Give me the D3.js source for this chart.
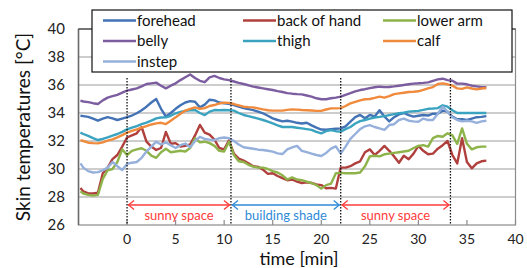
<!DOCTYPE html>
<html>
<head>
  <title>Skin temperatures</title>
  <script src="https://d3js.org/d3.v7.min.js"></script>
  <style>
    body { margin: 0; background: #fff; }
    text { font-family: Lato, "Open Sans", sans-serif; }
  </style>
</head>
<body>
  <div id="chart"></div>
  <script>
  const time = [-4.8, -4.5, -4, -3.5, -3, -2.5, -2, -1.5, -1, -0.5,
    0, 0.5, 1, 1.5, 2, 2.5, 3, 3.5, 4, 4.5, 5, 5.5, 6, 6.5, 7, 7.5, 8, 8.5, 9, 9.5,
    10, 10.5, 11, 11.5, 12, 12.5, 13, 13.5, 14, 14.5, 15, 15.5, 16, 16.5, 17, 17.5, 18, 18.5, 19, 19.5,
    20, 20.5, 21, 21.5, 22, 22.5, 23, 23.5, 24, 24.5, 25, 25.5, 26, 26.5, 27, 27.5, 28, 28.5, 29, 29.5,
    30, 30.5, 31, 31.5, 32, 32.5, 33, 33.5, 34, 34.5, 35, 35.5, 36, 36.5, 37];

  const forehead = [33.8, 33.78, 33.72, 33.6, 33.45, 33.6, 33.7, 33.62, 33.5, 33.6,
    33.7, 33.82, 33.98, 34.2, 34.45, 34.75, 35.0, 34.3, 33.75, 34.0, 34.3, 34.55, 34.75, 34.85, 34.8, 34.4, 34.6, 34.95, 34.9, 34.75,
    34.7, 34.65, 34.57, 34.45, 34.35, 34.28, 34.2, 34.1, 33.98, 33.8, 33.62, 33.5, 33.4, 33.45, 33.38, 33.3, 33.25, 33.3, 33.12, 32.95,
    32.82, 32.8, 32.85, 32.88, 32.9, 33.05, 33.38, 33.7, 33.86, 33.62, 33.86, 33.75, 34.2, 33.75, 33.4, 33.7, 33.9, 34.0, 33.85, 33.74,
    33.8, 33.86, 33.82, 33.95, 33.95, 34.17, 34.1, 33.75, 33.55, 33.55, 33.5, 33.6, 33.7, 33.72, 33.78];

  const backOfHand = [28.65, 28.4, 28.26, 28.25, 28.3, 29.7, 30.1, 30.7, 31.0, 31.6,
    32.25, 32.4, 32.55, 33.0, 31.95, 31.6, 31.36, 31.5, 32.65, 31.8, 31.85, 31.6, 31.65, 31.75, 32.4, 33.15, 32.6, 32.45, 32.1, 31.5,
    31.4, 32.05, 31.1, 30.75, 30.6, 30.4, 30.2, 30.15, 29.95, 29.65, 29.7, 29.5, 29.35, 29.2, 29.25, 29.1, 29.0, 29.05, 29.0, 28.9,
    28.85, 28.62, 28.65, 28.6, 30.1, 30.1, 30.2, 30.4, 30.55, 31.2, 31.4, 31.0, 31.3, 31.65, 31.3, 30.9, 30.45, 30.95, 30.7, 31.1,
    31.65, 31.3, 31.05, 31.1, 31.45, 31.7, 32.0, 31.0, 30.4, 32.2, 30.5, 30.05, 30.4, 30.55, 30.6];

  const lowerArm = [28.4, 28.25, 28.15, 28.1, 28.15, 29.3, 29.9, 30.0, 30.5, 31.4,
    31.0, 31.3, 31.4, 31.48, 31.3, 30.95, 30.8, 31.2, 31.45, 31.2, 31.25, 31.3, 31.25, 31.5, 32.2, 31.9, 31.95, 31.85, 31.65, 31.3,
    31.25, 31.95, 31.0, 30.55, 30.5, 30.3, 30.17, 30.1, 30.1, 30.0, 29.85, 29.75, 29.55, 29.25, 29.4, 29.25, 29.2, 29.1, 29.0, 28.85,
    28.6, 28.85, 28.95, 29.7, 29.72, 29.7, 29.7, 29.7, 29.75, 30.2, 30.9, 30.95, 30.9, 31.05, 31.1, 31.15, 31.2, 31.25, 31.3, 31.5,
    31.65, 31.7, 31.6, 32.2, 32.36, 32.3, 32.55, 32.4, 31.8, 32.9, 31.8, 31.4, 31.55, 31.6, 31.6];

  const belly = [34.88, 34.82, 34.78, 34.7, 34.64, 34.9, 35.1, 35.2, 35.3, 35.45,
    35.6, 35.68, 35.76, 35.9, 36.07, 36.12, 36.17, 35.95, 35.76, 35.95, 36.12, 36.35, 36.55, 36.75, 36.5, 36.3, 36.2, 36.55, 36.65, 36.5,
    36.4, 36.35, 36.25, 36.15, 36.07, 35.98, 35.88, 35.82, 35.76, 35.7, 35.64, 35.56, 35.5, 35.42, 35.38, 35.35, 35.33, 35.25, 35.17, 35.05,
    34.98, 34.98, 35.05, 35.1, 35.17, 35.3, 35.42, 35.55, 35.64, 35.7, 35.78, 35.84, 35.88, 35.85, 35.86, 35.9, 35.95, 36.0, 36.05, 36.1,
    36.12, 36.15, 36.19, 36.3, 36.4, 36.45, 36.35, 36.3, 36.1, 36.1, 36.05, 35.95, 35.9, 35.85, 35.85];

  const thigh = [32.6, 32.5, 32.36, 32.2, 32.07, 32.15, 32.26, 32.38, 32.5, 32.65,
    32.83, 32.95, 33.07, 33.2, 33.31, 33.45, 33.62, 33.68, 33.69, 33.8, 33.98, 34.08, 34.15, 34.2, 34.21, 34.0, 33.85, 34.1, 34.21, 34.2,
    34.21, 34.2, 34.17, 34.0, 33.86, 33.78, 33.69, 33.6, 33.5, 33.38, 33.26, 33.12, 33.0, 33.0, 33.0, 32.95, 32.9, 32.85, 32.79, 32.65,
    32.55, 32.7, 32.78, 32.7, 32.67, 32.85, 33.0, 33.25, 33.42, 33.5, 33.6, 33.68, 33.72, 33.78, 33.85, 33.92, 33.98, 34.02, 34.1, 34.12,
    34.15, 34.22, 34.3, 34.32, 34.35, 34.55, 34.45, 34.2, 34.0, 34.0, 34.0, 34.0, 34.0, 34.0, 34.0];

  const calf = [32.07, 32.0, 31.88, 31.85, 31.83, 31.9, 32.02, 32.12, 32.26, 32.42,
    32.6, 32.72, 32.83, 32.95, 33.07, 33.18, 33.26, 33.3, 33.21, 33.45, 33.69, 33.95, 34.17, 34.3, 34.4, 34.3, 34.35, 34.5, 34.57, 34.68,
    34.74, 34.72, 34.64, 34.55, 34.45, 34.42, 34.4, 34.33, 34.26, 34.2, 34.17, 34.17, 34.17, 34.22, 34.26, 34.24, 34.21, 34.2, 34.18, 34.15,
    34.15, 34.25, 34.33, 34.33, 34.35, 34.5, 34.69, 34.8, 34.9, 34.98, 35.0, 35.08, 35.17, 35.1, 35.2, 35.35, 35.4, 35.45, 35.5, 35.52,
    35.55, 35.65, 35.76, 35.85, 36.07, 36.12, 36.05, 35.95, 35.76, 35.72, 35.83, 35.75, 35.69, 35.75, 35.79];

  const instep = [30.4, 30.1, 29.85, 29.75, 29.78, 29.9, 30.1, 30.5, 30.2, 29.93,
    30.36, 30.45, 30.5, 30.8, 31.25, 31.6, 31.95, 31.75, 31.9, 31.7, 31.5, 31.7, 31.82, 31.55, 32.0, 32.3, 32.15, 32.1, 32.07, 32.2,
    32.25, 32.2, 32.0, 31.75, 31.55, 31.5, 31.45, 31.38, 31.36, 31.3, 31.24, 31.12, 31.07, 31.4, 31.55, 31.65, 31.3, 31.2, 31.1, 31.0,
    30.93, 31.15, 31.45, 31.62, 31.1, 31.6, 32.15, 32.5, 32.85, 33.05, 33.14, 33.0, 32.9, 32.8, 33.14, 33.2, 33.5, 33.6, 33.45, 33.4,
    33.38, 33.6, 33.5, 33.5, 33.95, 34.45, 34.1, 33.7, 33.5, 33.4, 33.45, 33.4, 33.3, 33.4, 33.45];

  const seriesNames = ["forehead", "back of hand", "lower arm", "belly", "thigh", "calf", "instep"];
  const seriesValues = [forehead, backOfHand, lowerArm, belly, thigh, calf, instep];
  const seriesColors = ["#4372b5", "#b0403d", "#8db34a", "#7c5ea0", "#3aa3bf", "#f08a3c", "#96b0dc"];

  const yTicks = [26, 28, 30, 32, 34, 36, 38, 40];
  const xTicks = [0, 5, 10, 15, 20, 25, 30, 35, 40];

  const phaseBounds = [0, 10.7, 22, 33.3];
  const phaseLabels = ["sunny space", "building shade", "sunny space"];
  const phaseColors = ["#ff3b3b", "#2f8ad8", "#ff3b3b"];

  const W = 527, H = 268;
  const svg = d3.select("#chart").append("svg")
    .attr("width", W).attr("height", H);

  const x = d3.scaleLinear().domain([-5, 40]).range([78.5, 515.5]);
  const y = d3.scaleLinear().domain([26, 40]).range([225, 29]);

  // gridlines
  svg.append("g")
    .selectAll("line")
    .data(yTicks.slice(1, -1))
    .join("line")
    .attr("x1", x(-5)).attr("x2", x(40))
    .attr("y1", d => y(d)).attr("y2", d => y(d))
    .attr("stroke", "#bdbdbd").attr("stroke-width", 1.5);

  // plot frame
  svg.append("rect")
    .attr("x", x(-5)).attr("y", y(40))
    .attr("width", x(40) - x(-5)).attr("height", y(26) - y(40))
    .attr("fill", "none").attr("stroke", "#8a8a8a").attr("stroke-width", 1.2);
  svg.append("line")
    .attr("x1", x(-5)).attr("x2", x(-5)).attr("y1", y(40)).attr("y2", y(26))
    .attr("stroke", "#6a6a6a").attr("stroke-width", 1.5);
  svg.append("line")
    .attr("x1", x(-5)).attr("x2", x(40)).attr("y1", y(40)).attr("y2", y(40))
    .attr("stroke", "#333").attr("stroke-width", 1.2);

  // x tick marks (inside)
  svg.append("g")
    .selectAll("line")
    .data(xTicks)
    .join("line")
    .attr("x1", d => x(d)).attr("x2", d => x(d))
    .attr("y1", y(26)).attr("y2", y(26) - 5)
    .attr("stroke", "#8a8a8a").attr("stroke-width", 1.2);

  // tick labels
  svg.append("g")
    .selectAll("text")
    .data(yTicks)
    .join("text")
    .attr("x", 65).attr("y", d => y(d) + 5)
    .attr("text-anchor", "end")
    .attr("font-size", 15).attr("fill", "#222")
    .text(d => d);

  svg.append("g")
    .selectAll("text")
    .data(xTicks)
    .join("text")
    .attr("x", d => x(d)).attr("y", 244)
    .attr("text-anchor", "middle")
    .attr("font-size", 14).attr("fill", "#222")
    .text(d => d);

  // axis titles
  svg.append("text")
    .attr("x", 299).attr("y", 264.8)
    .attr("text-anchor", "middle")
    .attr("font-size", 18).attr("fill", "#111")
    .text("time [min]");

  svg.append("text")
    .attr("transform", `translate(30,${(y(26) + y(40)) / 2}) rotate(-90)`)
    .attr("text-anchor", "middle")
    .attr("font-size", 19).attr("fill", "#111")
    .text("Skin temperatures [°C]");

  // series lines
  svg.append("clipPath").attr("id", "plot-clip")
    .append("rect")
    .attr("x", x(-5)).attr("y", y(40))
    .attr("width", x(40) - x(-5)).attr("height", y(26) - y(40));

  const line = d3.line()
    .x((d, i) => x(time[i]))
    .y(d => y(d));

  svg.append("g")
    .attr("clip-path", "url(#plot-clip)")
    .selectAll("path")
    .data(seriesValues)
    .join("path")
    .attr("d", d => line(d))
    .attr("fill", "none")
    .attr("stroke", (d, i) => seriesColors[i])
    .attr("stroke-width", 2.4)
    .attr("stroke-linejoin", "round");

  // phase boundaries
  svg.append("g")
    .selectAll("line")
    .data(phaseBounds)
    .join("line")
    .attr("x1", d => x(d)).attr("x2", d => x(d))
    .attr("y1", y(36.5)).attr("y2", y(26))
    .attr("stroke", "#111").attr("stroke-width", 1.3)
    .attr("stroke-dasharray", "1.5,1.5");

  // phase arrows
  const arrowY = 205;
  const phases = phaseLabels.map((label, i) => ({
    label, color: phaseColors[i], x0: x(phaseBounds[i]), x1: x(phaseBounds[i + 1])
  }));
  const ag = svg.append("g").selectAll("g").data(phases).join("g");
  ag.append("line")
    .attr("x1", d => d.x0 + 1).attr("x2", d => d.x1 - 1)
    .attr("y1", arrowY).attr("y2", arrowY)
    .attr("stroke", d => d.color).attr("stroke-width", 1.3);
  ag.append("path")
    .attr("d", d => `M${d.x0 + 7},${arrowY - 4.5} L${d.x0 + 1.5},${arrowY} L${d.x0 + 7},${arrowY + 4.5}`)
    .attr("fill", "none").attr("stroke", d => d.color).attr("stroke-width", 1.3);
  ag.append("path")
    .attr("d", d => `M${d.x1 - 7},${arrowY - 4.5} L${d.x1 - 1.5},${arrowY} L${d.x1 - 7},${arrowY + 4.5}`)
    .attr("fill", "none").attr("stroke", d => d.color).attr("stroke-width", 1.3);
  ag.append("text")
    .attr("x", d => (d.x0 + d.x1) / 2).attr("y", 220)
    .attr("text-anchor", "middle")
    .attr("font-size", 13).attr("fill", d => d.color)
    .text(d => d.label);

  // legend
  const lg = svg.append("g");
  lg.append("rect")
    .attr("x", 92).attr("y", 10).attr("width", 420).attr("height", 62)
    .attr("fill", "#fff").attr("stroke", "#111").attr("stroke-width", 1.2);
  const colX = [103, 243, 383];
  const rowY = [20.5, 41, 61.5];
  const items = lg.selectAll("g").data(seriesNames).join("g")
    .attr("transform", (d, i) => `translate(${colX[i % 3]},${rowY[Math.floor(i / 3)]})`);
  items.append("line")
    .attr("x1", 0).attr("x2", 33)
    .attr("stroke", (d, i) => seriesColors[i]).attr("stroke-width", 2.4);
  items.append("text")
    .attr("x", 34).attr("y", 5)
    .attr("font-size", 15).attr("fill", "#111")
    .text(d => d);
  </script>
</body>
</html>
